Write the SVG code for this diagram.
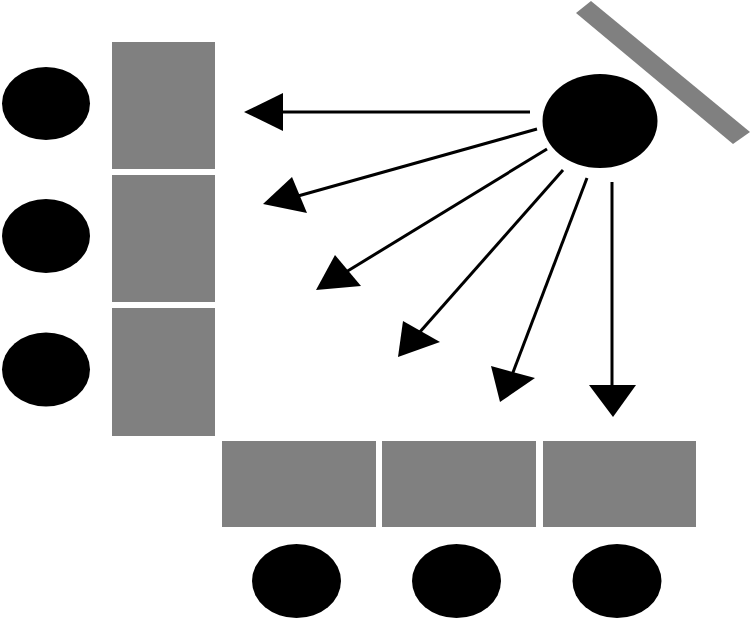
<svg xmlns="http://www.w3.org/2000/svg" width="750" height="619" viewBox="0 0 750 619">
<style>
.panel{fill:#808080}
.dot{fill:#000}
.ray{stroke:#000;stroke-width:3;fill:none}
.head{fill:#000}
</style>
<rect width="750" height="619" fill="#fff"/>
<g id="mirror"><polygon class="panel" points="576,13 591,1 750,132 733,144"/></g>
<g id="source"><ellipse class="dot" cx="600" cy="121" rx="57.5" ry="47"/></g>
<g id="left-panels">
<rect id="lp1" class="panel" x="112" y="42" width="103" height="127"/>
<rect id="lp2" class="panel" x="112" y="175" width="103" height="127"/>
<rect id="lp3" class="panel" x="112" y="308" width="103" height="128"/>
</g>
<g id="left-dots">
<ellipse id="ld1" class="dot" cx="46" cy="103.5" rx="44" ry="36.5"/>
<ellipse id="ld2" class="dot" cx="46" cy="236" rx="44" ry="37"/>
<ellipse id="ld3" class="dot" cx="46" cy="369.5" rx="44" ry="37"/>
</g>
<g id="bottom-panels">
<rect id="bp1" class="panel" x="222" y="441" width="154" height="86"/>
<rect id="bp2" class="panel" x="382" y="441" width="154" height="86"/>
<rect id="bp3" class="panel" x="543" y="441" width="153" height="86"/>
</g>
<g id="bottom-dots">
<ellipse id="bd1" class="dot" cx="296.5" cy="581" rx="44.5" ry="37"/>
<ellipse id="bd2" class="dot" cx="456.5" cy="581" rx="44.5" ry="37"/>
<ellipse id="bd3" class="dot" cx="617" cy="581" rx="44.5" ry="37"/>
</g>
<g id="connectors">
<line class="ray" x1="530" y1="112" x2="280" y2="112"/>
<polygon class="head" points="244,112 283,93 283,131"/>
<line class="ray" x1="537" y1="129" x2="298" y2="196"/>
<polygon class="head" points="263,204 292,177 307,213"/>
<line class="ray" x1="547" y1="149" x2="346" y2="272"/>
<polygon class="head" points="316,290 335,255 361,286"/>
<line class="ray" x1="563" y1="170" x2="419" y2="333"/>
<polygon class="head" points="398,357 403,321 440,342"/>
<line class="ray" x1="587" y1="178" x2="512" y2="375"/>
<polygon class="head" points="500,402 491,366 535,378"/>
<line class="ray" x1="612" y1="182" x2="612" y2="388"/>
<polygon class="head" points="613,417 589,385 636,385"/>
</g>
</svg>
